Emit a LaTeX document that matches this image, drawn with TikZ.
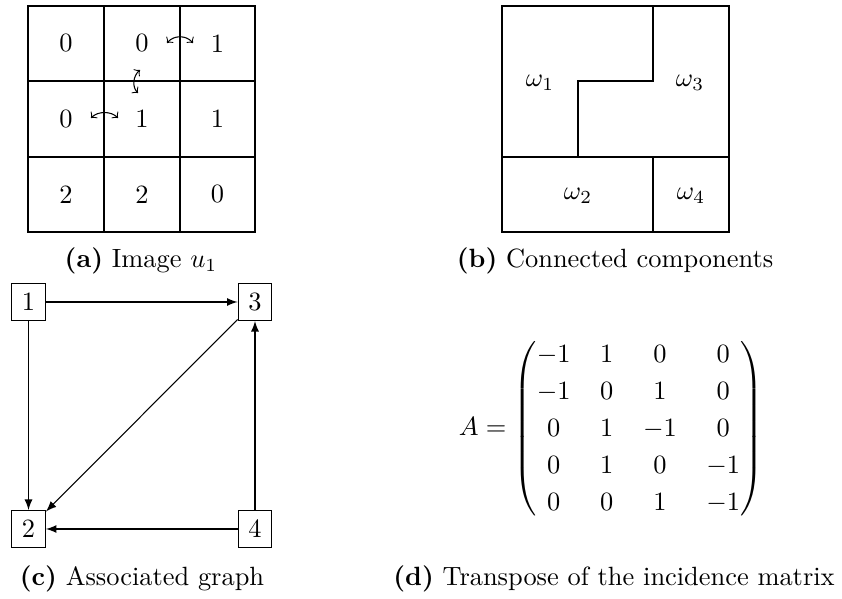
\documentclass[tikz,border=0pt]{standalone}
\usepackage{amsmath}
\usetikzlibrary{arrows}
\begin{document}
\begin{tikzpicture}[x=0.3788pt,y=-0.3788pt,
  gridline/.style={line width=0.4pt},
  cellnum/.style={inner sep=0pt},
  swap/.style={<->,line width=0.4pt},
  gnode/.style={draw,minimum width=12.8pt,minimum height=14pt,inner sep=0pt},
  gedge/.style={-latex,line width=0.4pt},
  caption/.style={anchor=base,inner sep=0pt}]
\useasboundingbox (0,0) rectangle (842,599);
% (a) grid
\draw[gridline] (28,6) rectangle (255,232);
\draw[gridline] (104,6) -- (104,232) (180,6) -- (180,232)
  (28,81) -- (255,81) (28,157) -- (255,157);
\node[cellnum] (a11) at (66,43.5) {0};
\node[cellnum] (a12) at (142,43.5) {0};
\node[cellnum] (a13) at (217.5,43.5) {1};
\node[cellnum] (a21) at (66,119) {0};
\node[cellnum] (a22) at (142,119) {1};
\node[cellnum] (a23) at (217.5,119) {1};
\node[cellnum] (a31) at (66,194.5) {2};
\node[cellnum] (a32) at (142,194.5) {2};
\node[cellnum] (a33) at (217.5,194.5) {0};
\coordinate (s1a) at (167,43); \coordinate (s1b) at (193,43);
\coordinate (s2a) at (140,70); \coordinate (s2b) at (138,93);
\coordinate (s3a) at (91,118); \coordinate (s3b) at (118,118);
\draw[swap] (s1a) .. controls (174,35) and (186,35) .. (s1b);
\draw[swap] (s2a) .. controls (133,76) and (132,87) .. (s2b);
\draw[swap] (s3a) .. controls (98,111) and (111,111) .. (s3b);
\node[caption] (capa) at (141,268) {\textbf{(a)} Image $u_1$};
% (b) components
\draw[gridline] (502,6) rectangle (729,232);
\draw[gridline] (653,6) -- (653,81) -- (578,81) -- (578,157);
\draw[gridline] (502,157) -- (729,157);
\draw[gridline] (653,157) -- (653,232);
\node[cellnum] (w1) at (540,83) {$\omega_1$};
\node[cellnum] (w3) at (690,83) {$\omega_3$};
\node[cellnum] (w2) at (578,196) {$\omega_2$};
\node[cellnum] (w4) at (691,196) {$\omega_4$};
\node[caption] (capb) at (615,268) {\textbf{(b)} Connected components};
% (c) graph
\node[gnode] (n1) at (28.5,302) {1};
\node[gnode] (n3) at (255,302) {3};
\node[gnode] (n2) at (28.5,529) {2};
\node[gnode] (n4) at (255,529) {4};
\draw[gedge] (n1) -- (n3);
\draw[gedge] (n1) -- (n2);
\draw[gedge] (n3) -- (n2);
\draw[gedge] (n4) -- (n2);
\draw[gedge] (n4) -- (n3);
\node[caption] (capc) at (142,586) {\textbf{(c)} Associated graph};
% (d) matrix
\node[inner sep=0pt] (mat) at (611,429) {\renewcommand{\arraystretch}{1.17}\setlength{\arraycolsep}{5.6pt}$A=\begin{pmatrix}
-1 & 1 & 0 & 0\\
-1 & 0 & 1 & 0\\
0 & 1 & -1 & 0\\
0 & 1 & 0 & -1\\
0 & 0 & 1 & -1
\end{pmatrix}$};
\node[caption] (capd) at (614,586) {\textbf{(d)} Transpose of the incidence matrix};
\end{tikzpicture}
\end{document}
